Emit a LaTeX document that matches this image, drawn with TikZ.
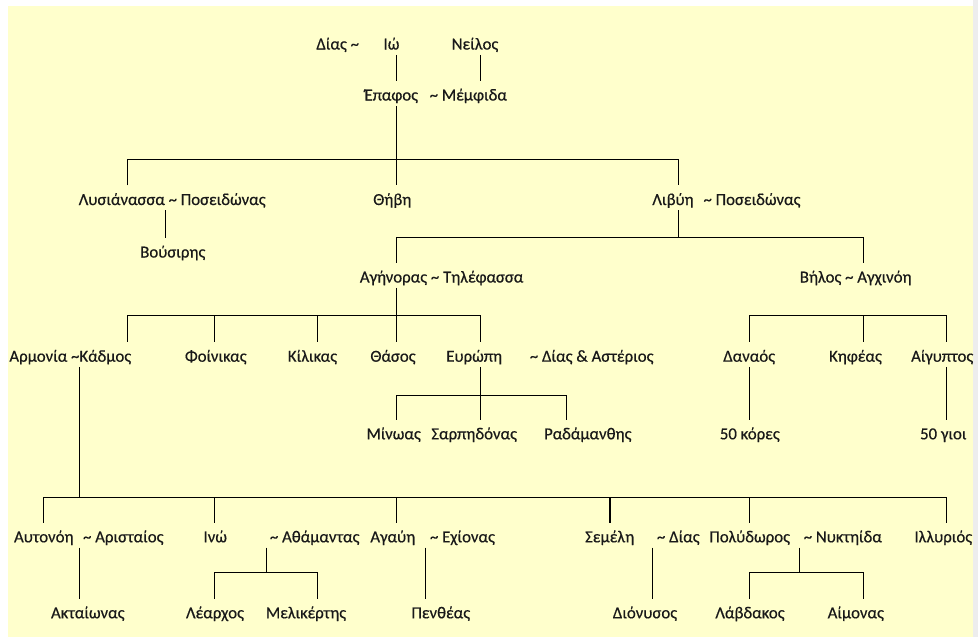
\documentclass[tikz,border=0pt]{standalone}
\usepackage{fontspec}
\setmainfont{Carlito}
\newfontfamily\namefont{Carlito}[FakeBold=0.45]
\definecolor{paper}{HTML}{FFFFCC}
\definecolor{rim}{HTML}{EDEDED}
\newcommand{\tl}{\textasciitilde}
\begin{document}
\begin{tikzpicture}[x=0.75pt,y=-0.75pt,
  person/.style={anchor=base,inner sep=0pt,text height=14.6pt,text depth=3.75pt,
    font=\namefont\fontsize{12.6}{14}\selectfont,text=black!90},
  link/.style={draw=black,line width=1pt},
  heavylink/.style={draw=black,line width=1.9pt}]
% page, paper and right rim
\fill[white] (0,0) rectangle (978,637);
\fill[paper] (8,6) rectangle (973,637);
\fill[rim] (973,0) rectangle (978,637);
\useasboundingbox (0,0) rectangle (978,637);

% ---- people ----
\node[person] (dias)    at (337.7,49.5) {Δίας \tl};
\node[person] (io)      at (391.5,49.5) {Ιώ};
\node[person] (neilos)  at (475,49.5)   {Νείλος};
\node[person] (epafos)  at (391.3,100.5) {Έπαφος};
\node[person] (memfida) at (468.3,100.5) {\tl\ Μέμφιδα};

\node[person] (lysi)    at (172.2,205) {Λυσιάνασσα \tl\ Ποσειδώνας};
\node[person] (thivi)   at (392.3,205) {Θήβη};
\node[person] (livyi)   at (673,205)   {Λιβύη};
\node[person] (poseid)  at (752,205)   {\tl\ Ποσειδώνας};
\node[person] (vousiris) at (172.8,257.5) {Βούσιρης};

\node[person] (agin)    at (441.6,282.5) {Αγήνορας \tl\ Τηλέφασσα};
\node[person] (vilos)   at (855.7,282.5) {Βήλος \tl\ Αγχινόη};

\node[person] (kadmos)  at (70.3,361.7)  {Αρμονία \tl Κάδμος};
\node[person] (foinikas) at (215.8,361.7) {Φοίνικας};
\node[person] (kilikas) at (312.5,361.7) {Κίλικας};
\node[person] (thasos)  at (393,361.7)   {Θάσος};
\node[person] (evropi)  at (474.2,361.7) {Ευρώπη};
\node[person] (asterios) at (591.7,361.7) {\tl\ Δίας \& Αστέριος};
\node[person] (danaos)  at (749.2,361.7) {Δαναός};
\node[person] (kifeas)  at (855.5,361.7) {Κηφέας};
\node[person] (aigyptos) at (942.2,361.7) {Αίγυπτος};

\node[person] (minoas)  at (393.7,439.3) {Μίνωας};
\node[person] (sarp)    at (474.2,439.3) {Σαρπηδόνας};
\node[person] (rad)     at (587.8,439.3) {Ραδάμανθης};
\node[person] (kores)   at (749.8,439.3) {50 κόρες};
\node[person] (gioi)    at (943.3,439.3) {50 γιοι};

\node[person] (aftonoi) at (43.8,542.3)  {Αυτονόη};
\node[person] (aristaios) at (123.3,542.3) {\tl\ Αρισταίος};
\node[person] (ino)     at (215.3,542.3) {Ινώ};
\node[person] (athamas) at (314.7,542.3) {\tl\ Αθάμαντας};
\node[person] (agavi)   at (392.8,542.3) {Αγαύη};
\node[person] (echionas) at (462.5,542.3) {\tl\ Εχίονας};
\node[person] (semeli)  at (609.7,542.3) {Σεμέλη};
\node[person] (dias2)   at (678.3,542.3) {\tl\ Δίας};
\node[person] (polydoros) at (749.7,542.3) {Πολύδωρος};
\node[person] (nyktiida) at (842.8,542.3) {\tl\ Νυκτηίδα};
\node[person] (illyrios) at (943.3,542.3) {Ιλλυριός};

\node[person] (aktaionas) at (87.8,618.3) {Ακταίωνας};
\node[person] (learchos) at (215,618.3)  {Λέαρχος};
\node[person] (melikertis) at (306,618.3) {Μελικέρτης};
\node[person] (pentheas) at (440.8,618.3) {Πενθέας};
\node[person] (dionysos) at (645,618.3)  {Διόνυσος};
\node[person] (lavdakos) at (750,618.3)  {Λάβδακος};
\node[person] (aimonas) at (855.8,618.3) {Αίμονας};

% ---- columns and bar levels (on pixel centres) ----
\coordinate (cKad)  at (79.5,0);
\coordinate (cAut)  at (43.5,0);
\coordinate (cL)    at (127.5,0);
\coordinate (cLysi) at (165.5,0);
\coordinate (cFoin) at (214.5,0);
\coordinate (cAth)  at (266.5,0);
\coordinate (cKil)  at (317.5,0);
\coordinate (cIo)   at (396.5,0);
\coordinate (cAga)  at (425.5,0);
\coordinate (cNil)  at (480.5,0);
\coordinate (cRad)  at (566.5,0);
\coordinate (cSem)  at (610,0);
\coordinate (cDia)  at (652.5,0);
\coordinate (cLib)  at (678.5,0);
\coordinate (cDan)  at (749.5,0);
\coordinate (cNyk)  at (799.5,0);
\coordinate (cBel)  at (863.5,0);
\coordinate (cAig)  at (946.5,0);

\coordinate (j1) at (396.5,159.5);
\coordinate (j2) at (678.5,237.5);
\coordinate (j3) at (396.5,315.5);
\coordinate (j4) at (749.5,315.5);
\coordinate (j5) at (480.5,395.5);
\coordinate (j6) at (79.5,497.5);
\coordinate (j7) at (266.5,572.5);
\coordinate (j8) at (799.5,572.5);

% ---- lines of descent ----
\draw[link] (cIo |- io.south) -- (cIo |- epafos.north);
\draw[link] (cNil |- neilos.south) -- (cNil |- memfida.north);

\draw[link] (cIo |- epafos.south) -- (cIo |- thivi.north);
\draw[link] (cL |- lysi.north) -- (cL |- j1) -- (cLib |- j1) -- (cLib |- livyi.north);
\draw[link] (cLysi |- lysi.south) -- (cLysi |- vousiris.north);

\draw[link] (cLib |- livyi.south) -- (cLib |- j2);
\draw[link] (cIo |- agin.north) -- (cIo |- j2) -- (cBel |- j2) -- (cBel |- vilos.north);

\draw[link] (cIo |- agin.south) -- (cIo |- thasos.north);
\draw[link] (cL |- kadmos.north) -- (cL |- j3) -- (cNil |- j3) -- (cNil |- evropi.north);
\draw[link] (cFoin |- j3) -- (cFoin |- foinikas.north);
\draw[link] (cKil |- j3) -- (cKil |- kilikas.north);

\draw[link] (cDan |- danaos.north) -- (cDan |- j4) -- (cAig |- j4) -- (cAig |- aigyptos.north);
\draw[link] (cBel |- j4) -- (cBel |- kifeas.north);

\draw[link] (cNil |- evropi.south) -- (cNil |- sarp.north);
\draw[link] (cIo |- minoas.north) -- (cIo |- j5) -- (cRad |- j5) -- (cRad |- rad.north);

\draw[link] (cDan |- danaos.south) -- (cDan |- kores.north);
\draw[link] (cAig |- aigyptos.south) -- (cAig |- gioi.north);

\draw[link] (cKad |- kadmos.south) -- (cKad |- j6);
\draw[link] (cAut |- aftonoi.north) -- (cAut |- j6) -- (cAig |- j6) -- (cAig |- illyrios.north);
\draw[link] (cFoin |- j6) -- (cFoin |- ino.north);
\draw[link] (cIo |- j6) -- (cIo |- agavi.north);
\draw[heavylink] (cSem |- j6) -- (cSem |- semeli.north);
\draw[link] (cDan |- j6) -- (cDan |- polydoros.north);

\draw[link] (cKad |- aristaios.south) -- (cKad |- aktaionas.north);
\draw[link] (cAth |- athamas.south) -- (cAth |- j7);
\draw[link] (cFoin |- learchos.north) -- (cFoin |- j7) -- (cKil |- j7) -- (cKil |- melikertis.north);
\draw[link] (cAga |- echionas.south) -- (cAga |- pentheas.north);
\draw[link] (cDia |- dias2.south) -- (cDia |- dionysos.north);
\draw[link] (cNyk |- nyktiida.south) -- (cNyk |- j8);
\draw[link] (cDan |- lavdakos.north) -- (cDan |- j8) -- (cBel |- j8) -- (cBel |- aimonas.north);
\end{tikzpicture}
\end{document}
